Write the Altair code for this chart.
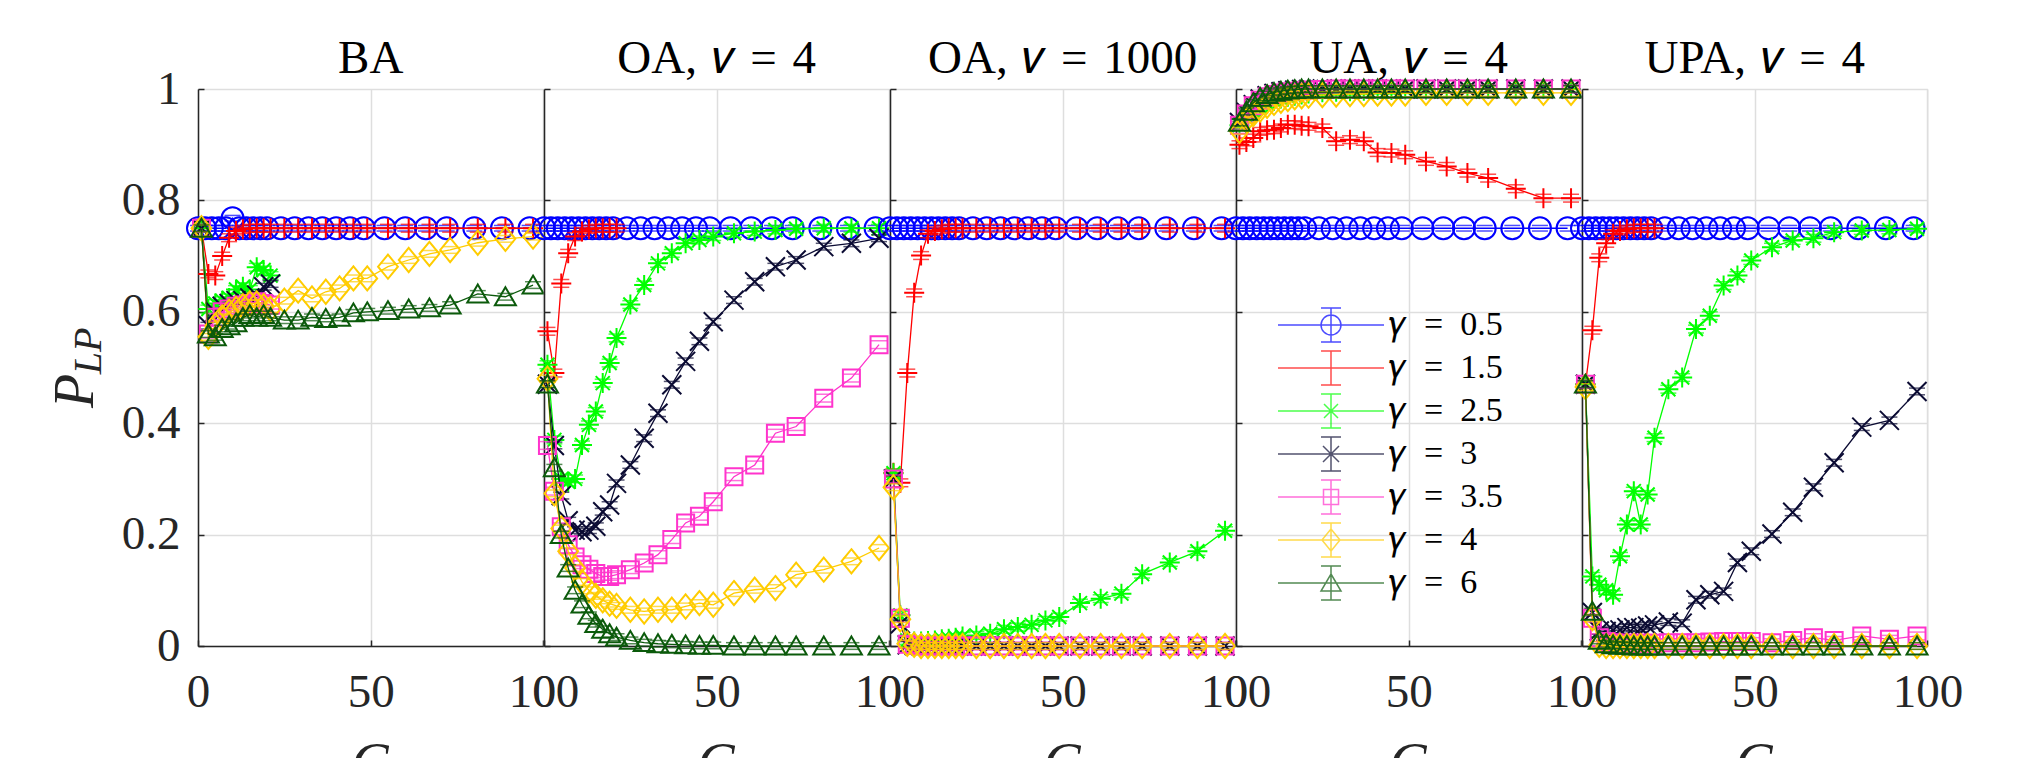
import altair as alt
import pandas as pd

FONT = "Liberation Serif"
INK = "#262626"
GRID = "#dedede"

# ---------------- grids / labels ----------------
G_ODD = [1, 3, 5, 7, 9, 11, 13, 15, 17, 19, 21, 25, 29, 33, 37, 41, 45, 49, 55, 61, 67, 73, 81, 89, 97]
G_EVEN = [0, 2, 4, 6, 8, 10, 12, 14, 16, 18, 20, 24, 28, 32, 36, 40, 44, 48, 54, 60, 66, 72, 80, 88, 96]

SP = "\u2002"
GAMMAS = ["0.5", "1.5", "2.5", "3", "3.5", "4", "6"]
GAMMA_LABELS = ["𝛾" + SP + "=" + SP + g for g in GAMMAS]
COLORS = ["#0000ff", "#ff0000", "#00ff00", "#0b0b33", "#ff33cc", "#ffcc00", "#0b5a0b"]
ERR = [0.005, 0.007, 0.007, 0.006, 0.007, 0.006, 0.006]
T = "\u2004"
PANEL_TITLES = ["BA", "OA," + T + "𝑣" + T + "=" + T + "4", "OA," + T + "𝑣" + T + "=" + T + "1000",
                "UA," + T + "𝑣" + T + "=" + T + "4", "UPA," + T + "𝑣" + T + "=" + T + "4"]
Y_TICKS = [0, 0.2, 0.4, 0.6, 0.8, 1]
X_TICKS = [0, 50, 100]

# ---------------- data ----------------
# BA
BA_05 = [0.750, 0.750, 0.750, 0.750, 0.750, 0.768, 0.750, 0.750, 0.750, 0.750, 0.750, 0.750, 0.750,
         0.750, 0.750, 0.750, 0.750, 0.750, 0.750, 0.750, 0.750, 0.750, 0.750, 0.750, 0.750]
BA_15 = [0.750, 0.668, 0.665, 0.700, 0.733, 0.745, 0.748, 0.750, 0.750, 0.750, 0.750, 0.750, 0.750,
         0.750, 0.750, 0.750, 0.750, 0.750, 0.750, 0.750, 0.750, 0.750, 0.750, 0.750, 0.750]
BA_25 = [0.750, 0.605, 0.615, 0.620, 0.625, 0.640, 0.645, 0.640, 0.680, 0.675, 0.665]
BA_3 = [0.750, 0.575, 0.600, 0.610, 0.615, 0.620, 0.620, 0.625, 0.630, 0.645, 0.650]
BA_35 = [0.750, 0.560, 0.590, 0.600, 0.605, 0.610, 0.612, 0.615, 0.618, 0.615, 0.612]
BA_4 = [0.750, 0.555, 0.575, 0.590, 0.600, 0.605, 0.610, 0.615, 0.615, 0.610, 0.605, 0.620, 0.638,
        0.624, 0.636, 0.642, 0.660, 0.660, 0.681, 0.693, 0.704, 0.711, 0.724, 0.731, 0.735]
BA_6 = [0.750, 0.560, 0.555, 0.570, 0.575, 0.580, 0.590, 0.595, 0.590, 0.595, 0.590, 0.585, 0.585,
        0.590, 0.588, 0.590, 0.598, 0.600, 0.602, 0.605, 0.607, 0.612, 0.632, 0.627, 0.648]

# OA, v = 4
OA4_05 = [0.750, 0.750, 0.750, 0.750, 0.750, 0.750, 0.750, 0.750, 0.750, 0.750, 0.750, 0.750, 0.750,
          0.750, 0.750, 0.750, 0.750, 0.750, 0.750, 0.750, 0.750, 0.750, 0.750, 0.750, 0.750]
OA4_15 = [0.565, 0.490, 0.651, 0.705, 0.735, 0.744, 0.748, 0.750, 0.750, 0.750, 0.750]
OA4_25 = [0.505, 0.370, 0.300, 0.295, 0.300, 0.361, 0.397, 0.421, 0.472, 0.508, 0.553, 0.613, 0.648,
          0.687, 0.705, 0.723, 0.729, 0.735, 0.741, 0.744, 0.747, 0.749, 0.750, 0.750, 0.750]
OA4_3 = [0.470, 0.360, 0.270, 0.225, 0.208, 0.205, 0.208, 0.215, 0.241, 0.253, 0.292, 0.325, 0.373,
         0.418, 0.469, 0.511, 0.547, 0.582, 0.621, 0.654, 0.681, 0.693, 0.717, 0.723, 0.732]
OA4_35 = [0.360, 0.278, 0.214, 0.182, 0.160, 0.146, 0.138, 0.130, 0.125, 0.125, 0.128, 0.137, 0.149,
          0.164, 0.191, 0.221, 0.233, 0.259, 0.304, 0.325, 0.382, 0.394, 0.445, 0.481, 0.541]
OA4_4 = [0.480, 0.274, 0.211, 0.170, 0.140, 0.115, 0.100, 0.090, 0.082, 0.076, 0.072, 0.065, 0.062,
         0.065, 0.065, 0.071, 0.077, 0.074, 0.095, 0.101, 0.104, 0.128, 0.137, 0.152, 0.176]
OA4_6 = [0.470, 0.320, 0.200, 0.140, 0.100, 0.075, 0.055, 0.040, 0.030, 0.022, 0.016, 0.010, 0.006,
         0.004, 0.003, 0.002, 0.001, 0.001, 0.000, 0.000, 0.000, 0.000, 0.000, 0.000, 0.000]

# OA, v = 1000
OA1000_05 = [0.750, 0.750, 0.750, 0.750, 0.750, 0.750, 0.750, 0.750, 0.750, 0.750, 0.750, 0.750, 0.750,
             0.750, 0.750, 0.750, 0.750, 0.750, 0.750, 0.750, 0.750, 0.750, 0.750, 0.750, 0.750]
OA1000_15 = [0.311, 0.293, 0.490, 0.634, 0.701, 0.740, 0.745, 0.748, 0.750, 0.750, 0.750, 0.750, 0.750,
             0.750, 0.750, 0.750, 0.750, 0.750, 0.750, 0.750, 0.750, 0.750, 0.750, 0.750, 0.750]
OA1000_25 = [0.310, 0.055, 0.010, 0.008, 0.008, 0.009, 0.010, 0.012, 0.013, 0.015, 0.017, 0.019, 0.022,
             0.030, 0.034, 0.038, 0.046, 0.052, 0.077, 0.085, 0.094, 0.129, 0.150, 0.170, 0.207]
OA1000_3 = [0.300, 0.040, 0.002, 0.001, 0.000, 0.000, 0.000, 0.000, 0.000, 0.000, 0.000, 0.000, 0.000,
            0.000, 0.000, 0.000, 0.000, 0.000, 0.000, 0.000, 0.000, 0.000, 0.000, 0.000, 0.000]
OA1000_35 = [0.300, 0.050, 0.003, 0.001, 0.000, 0.000, 0.000, 0.000, 0.000, 0.000, 0.000, 0.000, 0.000,
             0.000, 0.000, 0.000, 0.000, 0.000, 0.000, 0.000, 0.000, 0.000, 0.000, 0.000, 0.000]
OA1000_4 = [0.285, 0.048, 0.004, 0.002, 0.000, 0.000, 0.000, 0.000, 0.000, 0.000, 0.000, 0.000, 0.000,
            0.000, 0.000, 0.000, 0.000, 0.000, 0.000, 0.000, 0.000, 0.000, 0.000, 0.000, 0.000]

# UA, v = 4
UA_05 = [0.750, 0.750, 0.750, 0.750, 0.750, 0.750, 0.750, 0.750, 0.750, 0.750, 0.750, 0.750, 0.750,
         0.750, 0.750, 0.750, 0.750, 0.750, 0.750, 0.750, 0.750, 0.750, 0.750, 0.750, 0.750]
UA_15 = [0.900, 0.905, 0.912, 0.924, 0.926, 0.927, 0.930, 0.936, 0.936, 0.934, 0.933, 0.930, 0.906,
         0.909, 0.906, 0.886, 0.885, 0.882, 0.870, 0.861, 0.849, 0.840, 0.821, 0.804, 0.804]
UA_25 = [0.935, 0.950, 0.960, 0.968, 0.974, 0.979, 0.983, 0.986, 0.988, 0.990, 0.992, 0.994, 0.995,
         0.996, 0.997, 0.998, 0.998, 0.999, 0.999, 1.000, 1.000, 1.000, 1.000, 1.000, 1.000]
UA_3 = [0.940, 0.958, 0.972, 0.982, 0.988, 0.992, 0.995, 0.997, 0.998, 0.999, 0.999, 1.000, 1.000,
        1.000, 1.000, 1.000, 1.000, 1.000, 1.000, 1.000, 1.000, 1.000, 1.000, 1.000, 1.000]
UA_35 = [0.935, 0.955, 0.970, 0.980, 0.986, 0.990, 0.993, 0.995, 0.996, 0.997, 0.998, 0.999, 1.000,
         1.000, 1.000, 1.000, 1.000, 1.000, 1.000, 1.000, 1.000, 1.000, 1.000, 1.000, 1.000]
UA_4 = [0.925, 0.945, 0.955, 0.963, 0.970, 0.975, 0.979, 0.982, 0.985, 0.987, 0.988, 0.989, 0.990,
        0.991, 0.991, 0.992, 0.992, 0.992, 0.993, 0.993, 0.993, 0.993, 0.993, 0.993, 0.993]
UA_6 = [0.940, 0.960, 0.975, 0.985, 0.990, 0.994, 0.996, 0.998, 0.999, 1.000, 1.000, 1.000, 1.000,
        1.000, 1.000, 1.000, 1.000, 1.000, 1.000, 1.000, 1.000, 1.000, 1.000, 1.000, 1.000]

# UPA, v = 4
UPA_05 = [0.750, 0.750, 0.750, 0.750, 0.750, 0.750, 0.750, 0.750, 0.750, 0.750, 0.750, 0.750, 0.750,
          0.750, 0.750, 0.750, 0.750, 0.750, 0.750, 0.750, 0.750, 0.750, 0.750, 0.750, 0.750]
UPA_15 = [0.470, 0.567, 0.697, 0.723, 0.740, 0.745, 0.748, 0.750, 0.750, 0.750, 0.750]
UPA_25 = [0.470, 0.125, 0.110, 0.100, 0.092, 0.161, 0.218, 0.278, 0.218, 0.272, 0.374, 0.461, 0.482,
          0.569, 0.593, 0.647, 0.665, 0.692, 0.716, 0.728, 0.732, 0.743, 0.746, 0.747, 0.749]
UPA_3 = [0.470, 0.060, 0.027, 0.026, 0.028, 0.029, 0.033, 0.033, 0.032, 0.036, 0.038, 0.043, 0.041,
         0.083, 0.092, 0.098, 0.150, 0.170, 0.201, 0.240, 0.285, 0.329, 0.393, 0.405, 0.457]
UPA_35 = [0.470, 0.050, 0.015, 0.008, 0.006, 0.005, 0.005, 0.005, 0.005, 0.005, 0.005, 0.006, 0.006,
          0.006, 0.007, 0.008, 0.008, 0.008, 0.006, 0.010, 0.015, 0.010, 0.018, 0.012, 0.018]
UPA_4 = [0.465, 0.050, 0.002, 0.000, 0.000, 0.000, 0.000, 0.000, 0.000, 0.000, 0.000, 0.000, 0.000,
         0.000, 0.000, 0.000, 0.000, 0.000, 0.000, 0.000, 0.000, 0.000, 0.000, 0.000, 0.000]
UPA_6 = [0.470, 0.062, 0.010, 0.004, 0.002, 0.001, 0.001, 0.000, 0.000, 0.000, 0.000, 0.000, 0.000,
         0.000, 0.000, 0.000, 0.000, 0.000, 0.000, 0.000, 0.000, 0.000, 0.000, 0.000, 0.000]

PANELS = [
    [BA_05, BA_15, BA_25, BA_3, BA_35, BA_4, BA_6],
    [OA4_05, OA4_15, OA4_25, OA4_3, OA4_35, OA4_4, OA4_6],
    [OA1000_05, OA1000_15, OA1000_25, OA1000_3, OA1000_35, OA1000_4, None],
    [UA_05, UA_15, UA_25, UA_3, UA_35, UA_4, UA_6],
    [UPA_05, UPA_15, UPA_25, UPA_3, UPA_35, UPA_4, UPA_6],
]

# ---------------- marker styles ----------------
MARKERS = [
    ("circle", 484),
    ("M-1,0H1M0,-1V1", 400),
    ("M-1,0H1M0,-1V1M-0.7,-0.7L0.7,0.7M-0.7,0.7L0.7,-0.7", 400),
    ("M-1,-1L1,1M-1,1L1,-1", 361),
    ("square", 289),
    ("M0,-1.1L0.9,0L0,1.1L-0.9,0Z", 484),
    ("M0,-0.9L1,0.8L-1,0.8Z", 441),
]
LINE = "M-5.3,0H5.3"
EBAR = "M0,-1.7V1.7M-1,-1.7H1M-1,1.7H1"
LEG_PATHS = [
    LINE + "M1,0A1,1,0,1,1,-1,0A1,1,0,1,1,1,0" + EBAR,
    LINE + EBAR,
    LINE + "M-0.7,-0.7L0.7,0.7M-0.7,0.7L0.7,-0.7" + EBAR,
    LINE + "M-0.8,-0.8L0.8,0.8M-0.8,0.8L0.8,-0.8" + EBAR,
    LINE + "M-0.75,-0.75H0.75V0.75H-0.75Z" + EBAR,
    LINE + "M0,-1.1L0.9,0L0,1.1L-0.9,0Z" + EBAR,
    LINE + "M0,-0.9L1,0.8L-1,0.8Z" + EBAR,
]

rows = []
for p, series in enumerate(PANELS):
    for gi, vals in enumerate(series):
        if vals is None:
            continue
        grid = G_EVEN if gi == 0 else G_ODD
        for g, v in zip(grid, vals):
            rows.append({"panel": p, "gi": gi, "G": g, "P": v,
                         "lo": v - ERR[gi], "hi": v + ERR[gi]})
df = pd.DataFrame(rows)

W, H = 345.4, 557
XS = alt.Scale(domain=[0, 100], nice=False, zero=False)
YS = alt.Scale(domain=[0, 1], nice=False, zero=False)


def x_main():
    return alt.Axis(values=X_TICKS, format="d", labelFontSize=47, labelPadding=23,
                    labelFlush=False, labelOverlap=False, ticks=False, tickSize=0,
                    domainColor=INK, domainWidth=1.5, grid=True, gridColor=GRID, gridWidth=1.5,
                    labelColor=INK, labelFont=FONT, title="G", titleFont=FONT,
                    titleFontStyle="italic", titleFontSize=56, titleFontWeight="normal",
                    titleColor=INK, titlePadding=22)


def y_main(p):
    return alt.Axis(values=Y_TICKS, format="~g", labels=(p == 0), labelFontSize=47,
                    labelPadding=18, labelColor=INK, labelFont=FONT, ticks=False, tickSize=0,
                    domainColor=INK, domainWidth=1.5, grid=True, gridColor=GRID, gridWidth=1.5,
                    title=None)


X_TICK_AXIS = alt.Axis(orient="bottom", offset=-6, values=X_TICKS, ticks=True, tickSize=6,
                       tickColor=INK, tickWidth=1.5, labels=False, domain=False, grid=False,
                       title=None)
Y_TICK_AXIS = alt.Axis(orient="left", offset=-6, values=Y_TICKS, ticks=True, tickSize=6,
                       tickColor=INK, tickWidth=1.5, labels=False, domain=False, grid=False,
                       title=None)

LEG = alt.Legend(orient="none", legendX=1116, legendY=219, title=None, labelFont=FONT,
                 labelFontSize=34, labelColor="#000000", symbolSize=400, symbolStrokeWidth=1.5,
                 labelOffset=41, rowPadding=3, labelLimit=400)


def panel(p):
    sel = alt.Chart(df).transform_filter(f"datum.panel == {p}")
    layers = []
    layers.append(sel.transform_filter("datum.gi == 0").mark_line(opacity=0).encode(
        x=alt.X("G:Q", scale=XS, axis=x_main()),
        y=alt.Y("P:Q", scale=YS, axis=y_main(p))))
    layers.append(sel.transform_filter("datum.gi == 0").mark_line(opacity=0).encode(
        x=alt.X("G:Q", scale=XS, axis=X_TICK_AXIS),
        y=alt.Y("P:Q", scale=YS, axis=Y_TICK_AXIS)))
    for gi, vals in enumerate(PANELS[p]):
        if vals is None:
            continue
        c = COLORS[gi]
        shape, size = MARKERS[gi]
        s = sel.transform_filter(f"datum.gi == {gi}")
        enc = dict(x=alt.X("G:Q", scale=XS, axis=None), y=alt.Y("P:Q", scale=YS, axis=None))
        layers.append(s.mark_line(color=c, strokeWidth=1.3).encode(**enc))
        layers.append(s.transform_fold(["lo", "hi"], as_=["k", "cy"]).mark_tick(
            orient="horizontal", color=c, size=16, thickness=1.5).encode(
            x=alt.X("G:Q", scale=XS, axis=None), y=alt.Y("cy:Q", scale=YS, axis=None)))
        layers.append(s.mark_point(shape=shape, size=size, filled=False, strokeWidth=2,
                                   color=c, opacity=1).encode(**enc))
    # panel title
    layers.append(alt.Chart(pd.DataFrame({"t": [PANEL_TITLES[p]]})).mark_text(
        font=FONT, fontSize=47, align="center", baseline="alphabetic", color="#000000").encode(
        text="t:N", x=alt.value(W / 2), y=alt.value(-16)))
    if p == 0:
        layers.append(alt.Chart(pd.DataFrame({"t": ["P"]})).mark_text(
            font=FONT, fontStyle="italic", fontSize=56, angle=270, align="center",
            baseline="alphabetic", color=INK).encode(
            text="t:N", x=alt.value(-105), y=alt.value(302)))
        layers.append(alt.Chart(pd.DataFrame({"t": ["LP"]})).mark_text(
            font=FONT, fontStyle="italic", fontSize=40, angle=270, align="center",
            baseline="alphabetic", color=INK).encode(
            text="t:N", x=alt.value(-97), y=alt.value(262)))
    if p == 3:
        layers.append(alt.Chart(pd.DataFrame({"gl": GAMMA_LABELS})).transform_filter(
            "false").mark_point(filled=False).encode(
            x=alt.value(0), y=alt.value(0),
            color=alt.Color("gl:N", scale=alt.Scale(domain=GAMMA_LABELS, range=COLORS), legend=LEG),
            shape=alt.Shape("gl:N", scale=alt.Scale(domain=GAMMA_LABELS, range=LEG_PATHS), legend=LEG)))
    return alt.layer(*layers).resolve_axis(x="independent", y="independent").properties(
        width=W, height=H)


chart = alt.hconcat(*[panel(p) for p in range(5)], spacing=0, bounds="flush").properties(
    padding={"left": 39, "top": 26, "right": 10, "bottom": 5}
).configure_view(stroke=None).configure_legend(
    labelFontSize=34, labelFont=FONT
).configure(background="white")

chart.save("out.html", embed_options={"renderer": "svg", "actions": False})
